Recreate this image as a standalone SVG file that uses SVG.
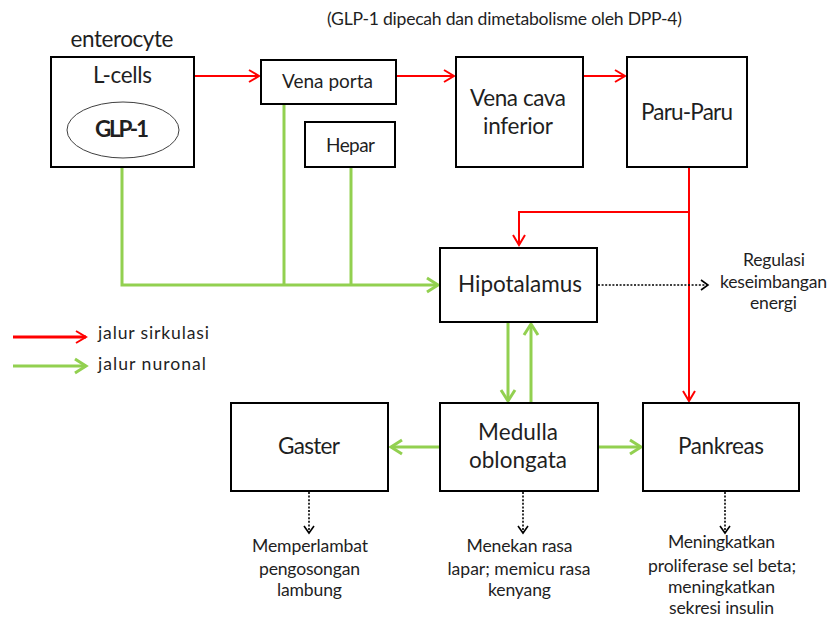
<svg xmlns="http://www.w3.org/2000/svg" width="831" height="621" viewBox="0 0 831 621">
  <style>
    text { font-family: Lato, "Liberation Sans", sans-serif; fill: #1f1f1f; text-anchor: middle; }
    .big { font-size: 22.5px; }
    .mid { font-size: 19px; }
    .sm { font-size: 17.6px; }
    .lg { text-anchor: start; }
    .box { fill: #ffffff; stroke: #000000; stroke-width: 2; }
    .red { fill: none; stroke: #ff0000; stroke-width: 2; }
    .green { fill: none; stroke: #92d050; stroke-width: 3; }
    .dot { fill: none; stroke: #000000; stroke-width: 1.6; stroke-dasharray: 2 1.6; }
  </style>
  <defs>
    <marker id="headRed" markerUnits="userSpaceOnUse" markerWidth="20" markerHeight="20" refX="0" refY="0" orient="auto" overflow="visible">
      <path d="M-10,-6 L0,0 L-10,6" fill="none" stroke="#ff0000" stroke-width="2"/>
    </marker>
    <marker id="headGreen" markerUnits="userSpaceOnUse" markerWidth="20" markerHeight="20" refX="0" refY="0" orient="auto" overflow="visible">
      <path d="M-11,-7 L0,0 L-11,7" fill="none" stroke="#92d050" stroke-width="3"/>
    </marker>
    <marker id="headDot" markerUnits="userSpaceOnUse" markerWidth="20" markerHeight="20" refX="0" refY="0" orient="auto" overflow="visible">
      <path d="M-7,-5 L0,0 L-7,5" fill="none" stroke="#000000" stroke-width="1.6"/>
    </marker>
  </defs>

  <rect width="831" height="621" fill="#ffffff"/>

  <text id="note" class="sm" x="504.5" y="25" textLength="355">(GLP-1 dipecah dan dimetabolisme oleh DPP-4)</text>

  <!-- connectors -->
  <g id="connectors">
    <!-- circulation (red) -->
    <path class="red" d="M194,76 H259" marker-end="url(#headRed)"/>
    <path class="red" d="M396,76 H454" marker-end="url(#headRed)"/>
    <path class="red" d="M583,76 H625" marker-end="url(#headRed)"/>
    <path class="red" d="M689,167 V401" marker-end="url(#headRed)"/>
    <path class="red" d="M689,212 H519 V245" marker-end="url(#headRed)"/>
    <!-- neuronal (green) -->
    <path class="green" d="M122,167 V285 H438" marker-end="url(#headGreen)"/>
    <path class="green" d="M284,104 V285"/>
    <path class="green" d="M351,167 V285"/>
    <path class="green" d="M508,322 V401" marker-end="url(#headGreen)"/>
    <path class="green" d="M531,403 V324" marker-end="url(#headGreen)"/>
    <path class="green" d="M440,447 H391" marker-end="url(#headGreen)"/>
    <path class="green" d="M598,447 H641" marker-end="url(#headGreen)"/>
    <!-- effects (dotted) -->
    <path class="dot" d="M598,285 H708" marker-end="url(#headDot)"/>
    <path class="dot" d="M309,492 V533" marker-end="url(#headDot)"/>
    <path class="dot" d="M523,492 V533" marker-end="url(#headDot)"/>
    <path class="dot" d="M725,492 V533" marker-end="url(#headDot)"/>
  </g>

  <!-- nodes -->
  <g id="enterocyte">
    <text class="big" x="122" y="47" textLength="103">enterocyte</text>
    <rect class="box" x="51" y="57" width="143" height="110"/>
    <text class="big" x="122.5" y="83" textLength="59">L-cells</text>
    <ellipse cx="123" cy="130" rx="56" ry="28" fill="#ffffff" stroke="#404040" stroke-width="1"/>
    <text class="big" x="122" y="137" textLength="54" font-weight="bold">GLP-1</text>
  </g>

  <g id="vena-porta">
    <rect class="box" x="261" y="60" width="135" height="44"/>
    <text class="mid" x="327.5" y="88" textLength="91">Vena porta</text>
  </g>

  <g id="hepar">
    <rect class="box" x="305" y="122" width="90" height="45"/>
    <text class="mid" x="350.5" y="152" textLength="49">Hepar</text>
  </g>

  <g id="vena-cava">
    <rect class="box" x="456" y="57" width="127" height="110"/>
    <text class="big" x="518" y="106" textLength="96">Vena cava</text>
    <text class="big" x="518" y="134" textLength="70">inferior</text>
  </g>

  <g id="paru-paru">
    <rect class="box" x="627" y="57" width="120" height="110"/>
    <text class="big" x="687" y="120" textLength="92">Paru-Paru</text>
  </g>

  <g id="hipotalamus">
    <rect class="box" x="440" y="248" width="157" height="74"/>
    <text class="big" x="520" y="292" textLength="124">Hipotalamus</text>
  </g>

  <g id="regulasi">
    <text class="sm" x="774" y="266" textLength="62">Regulasi</text>
    <text class="sm" x="773.5" y="288" textLength="107">keseimbangan</text>
    <text class="sm" x="773.5" y="309" textLength="47">energi</text>
  </g>

  <g id="gaster">
    <rect class="box" x="231" y="403" width="157" height="88"/>
    <text class="big" x="309" y="454" textLength="62">Gaster</text>
    <text class="sm" x="310" y="552" textLength="116">Memperlambat</text>
    <text class="sm" x="309.5" y="575" textLength="101">pengosongan</text>
    <text class="sm" x="309.5" y="596" textLength="65">lambung</text>
  </g>

  <g id="medulla">
    <rect class="box" x="440" y="403" width="158" height="88"/>
    <text class="big" x="518" y="440" textLength="80">Medulla</text>
    <text class="big" x="518" y="468" textLength="98">oblongata</text>
    <text class="sm" x="519.5" y="552" textLength="106">Menekan rasa</text>
    <text class="sm" x="519" y="575" textLength="143">lapar; memicu rasa</text>
    <text class="sm" x="519.5" y="596" textLength="63">kenyang</text>
  </g>

  <g id="pankreas">
    <rect class="box" x="643" y="403" width="156" height="88"/>
    <text class="big" x="721" y="454" textLength="86">Pankreas</text>
    <text class="sm" x="721.5" y="548" textLength="107">Meningkatkan</text>
    <text class="sm" x="722" y="572" textLength="148">proliferase sel beta;</text>
    <text class="sm" x="721.5" y="593" textLength="107">meningkatkan</text>
    <text class="sm" x="721.5" y="614" textLength="105">sekresi insulin</text>
  </g>

  <g id="legend">
    <path d="M13,337 H86" fill="none" stroke="#ff0000" stroke-width="3" marker-end="url(#headRed)"/>
    <text class="sm lg" x="98" y="339" textLength="111">jalur sirkulasi</text>
    <path d="M13,366 H86" class="green" marker-end="url(#headGreen)"/>
    <text class="sm lg" x="98" y="370" textLength="108">jalur nuronal</text>
  </g>
</svg>
